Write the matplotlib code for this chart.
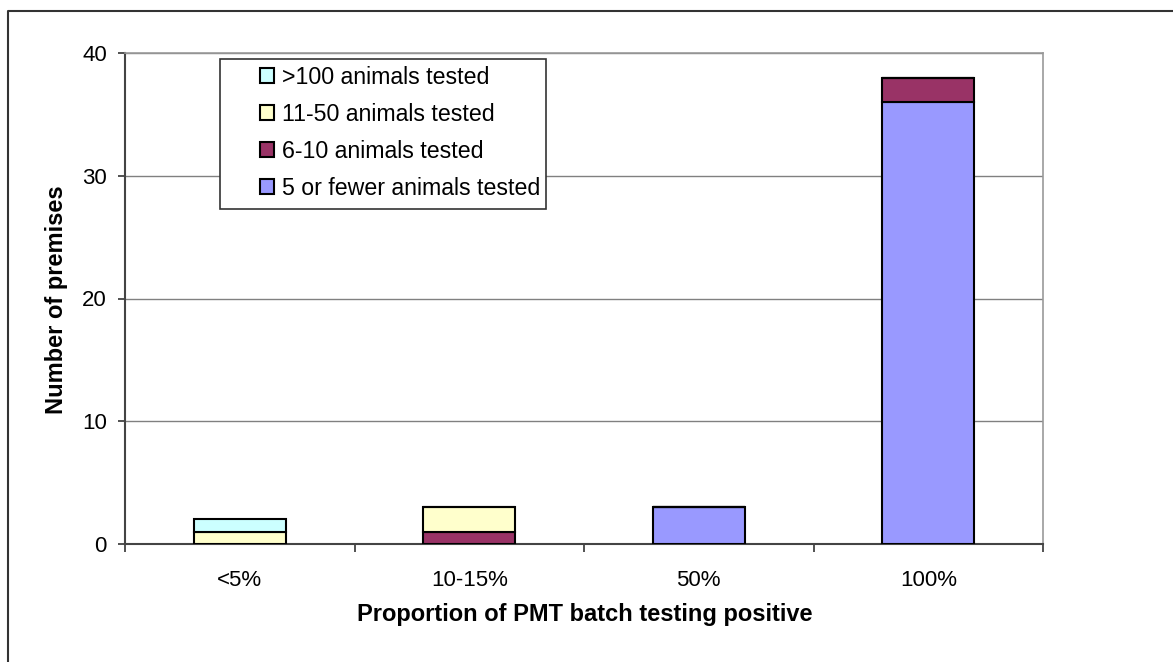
import matplotlib.pyplot as plt
import numpy as np
from matplotlib.patches import Rectangle
from matplotlib.lines import Line2D

plt.rcParams['font.family'] = ['Liberation Sans', 'DejaVu Sans']

# DATA
categories = ['<5%', '10-15%', '50%', '100%']
series_names = ['5 or fewer animals tested', '6-10 animals tested',
                '11-50 animals tested', '>100 animals tested']
five_or_fewer = [0, 0, 3, 36]
six_to_ten = [0, 1, 0, 2]
eleven_to_fifty = [1, 2, 0, 0]
over_hundred = [1, 0, 0, 0]
colors = ['#9999FF', '#993366', '#FFFFCC', '#CCFFFF']

W, H = 1173, 662
fig = plt.figure(figsize=(W/100, H/100), dpi=100)
ax = fig.add_axes([125/W, 1-544/H, (1043-125)/W, (544-53)/H])

# outer chart border (only left and top visible, chart is cropped)
fig.add_artist(Line2D([8/W, 8/W, 1.0], [0.0, 1-11/H, 1-11/H],
                      transform=fig.transFigure, color='#333333', linewidth=1.5))

x = np.arange(len(categories))
bottom = np.zeros(len(categories))
for vals, name, c in zip([five_or_fewer, six_to_ten, eleven_to_fifty, over_hundred],
                         series_names, colors):
    vals = np.array(vals, dtype=float)
    ax.bar(x, vals, width=0.4, bottom=bottom, color=c, edgecolor='black',
           linewidth=1.5, label=name, zorder=3)
    bottom += vals

ax.set_xlim(-0.5, len(categories)-0.5)
ax.set_ylim(0, 40)
ax.set_yticks([0, 10, 20, 30, 40])
ax.yaxis.grid(True, color='#808080', linewidth=1.0, zorder=0)
ax.set_axisbelow(True)

# category boundary ticks on x axis
ax.set_xticks(np.arange(-0.5, len(categories), 1.0))
ax.set_xticklabels([])
ax.set_xticks(x, minor=True)
ax.set_xticklabels(categories, minor=True)
ax.tick_params(axis='x', which='minor', length=0, pad=19, labelsize=16)
ax.tick_params(axis='x', which='major', length=6, color='#333333', width=1.2)
ax.tick_params(axis='y', length=5, color='#333333', width=1.2, labelsize=16, pad=8)

for s in ['top', 'right']:
    ax.spines[s].set_color('#999999')
    ax.spines[s].set_linewidth(1.2)
for s in ['left', 'bottom']:
    ax.spines[s].set_color('#444444')
    ax.spines[s].set_linewidth(1.5)

fig.text(57/W, 1-300/H, 'Number of premises', rotation=90, ha='center',
         va='center', fontsize=17, fontweight='bold')
fig.text(585/W, 1-614/H, 'Proportion of PMT batch testing positive',
         ha='center', va='center', fontsize=17, fontweight='bold')

# legend: frame drawn separately to get Excel-like left padding
frame = Rectangle((220/W, 1-209/H), (546-220)/W, (209-59)/H,
                  transform=fig.transFigure, facecolor='white',
                  edgecolor='#333333', linewidth=1.2, zorder=4)
fig.add_artist(frame)
handles, labels = ax.get_legend_handles_labels()
leg = fig.legend(handles[::-1], labels[::-1], loc='upper left',
                 bbox_to_anchor=(260/W, 1-66/H), fontsize=16.7,
                 frameon=False, handlelength=0.6, handleheight=0.6,
                 handletextpad=0.35, labelspacing=0.6, borderpad=0,
                 borderaxespad=0)
leg.set_zorder(5)

fig.savefig('out.png', dpi=100)
